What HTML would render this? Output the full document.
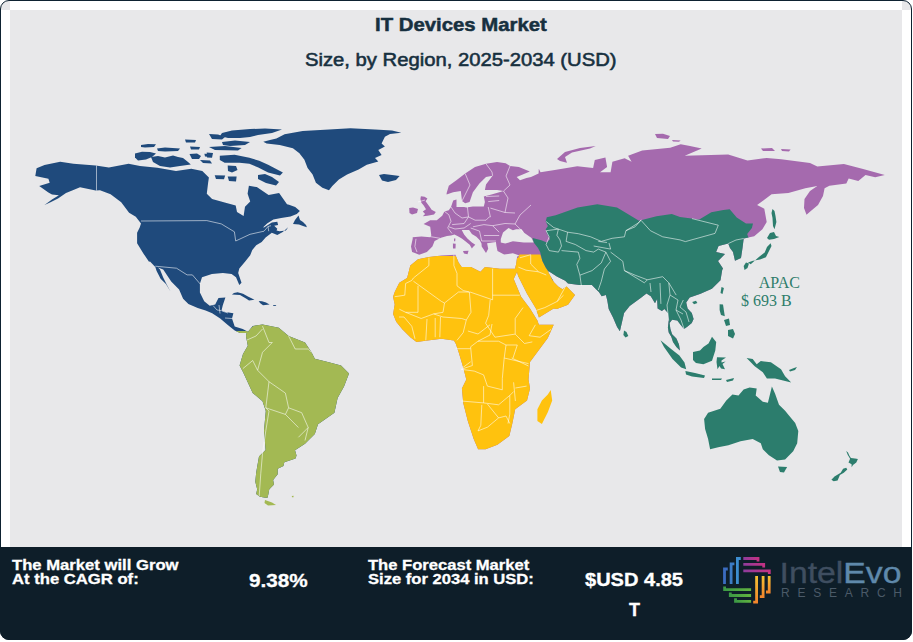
<!DOCTYPE html>
<html><head><meta charset="utf-8">
<style>
html,body{margin:0;padding:0;background:#fff;}
body{width:913px;height:642px;position:relative;overflow:hidden;font-family:"Liberation Sans",sans-serif;}
.frame{position:absolute;left:0;top:0;width:910px;height:638px;border:1px solid #0e2231;border-radius:9px;background:#e8e8ea;overflow:hidden;}
.ws{position:absolute;background:#fff;}
.mapbg{position:absolute;left:10px;top:10px;width:892px;height:537px;background:#e8e8ea;}
.footer{position:absolute;left:0;top:547px;width:912px;height:93px;background:#0e1e29;border-radius:0 0 9px 9px;}
.map{position:absolute;left:0;top:0;}
.title{position:absolute;white-space:nowrap;color:#17303f;font-weight:bold;transform-origin:0 0;line-height:1;-webkit-text-stroke:0.5px #17303f;}
.t1{left:374.5px;top:15px;font-size:19px;transform:scaleX(1.07);}
.t2{left:305px;top:51px;font-size:18px;font-weight:normal;transform:scaleX(1.124);-webkit-text-stroke:0.55px #17303f;}
.lab{font-family:"Liberation Serif",serif;font-size:16px;fill:#2e7d6b;}
.ft{position:absolute;color:#fff;font-weight:bold;white-space:nowrap;transform-origin:0 0;line-height:1;-webkit-text-stroke:0.3px #fff;}
.logo{position:absolute;left:0;top:0;}
</style></head><body>
<div class="frame"></div>
<div class="mapbg"></div>
<div class="ws" style="left:10px;top:1px;width:892px;height:9px;"></div>
<div class="ws" style="left:1px;top:10px;width:9px;height:537px;"></div>
<div class="ws" style="left:902px;top:10px;width:9px;height:537px;"></div>
<svg class="map" width="913" height="642" viewBox="0 0 913 642">
<defs><clipPath id="ca"><path d="M35.3,176.1 L36.6,168.3 L44.5,165.0 L60.2,161.7 L73.4,163.7 L95.7,165.6 L108.9,167.6 L128.6,163.7 L140.0,166.0 L157.4,167.7 L176.0,171.0 L191.3,168.8 L202.3,171.0 L208.9,177.6 L208.1,183.1 L206.8,193.7 L212.1,198.9 L226.5,202.9 L235.7,205.5 L237.0,212.0 L243.6,216.0 L245.0,206.8 L250.2,201.5 L247.6,193.7 L248.9,185.8 L256.8,187.1 L268.6,195.0 L279.1,193.0 L287.0,204.2 L289.0,204.7 L295.2,207.0 L299.9,210.9 L296.8,214.0 L290.5,216.4 L281.2,217.9 L273.4,219.5 L267.1,223.4 L263.2,227.3 L264.0,227.5 L271.8,222.6 L277.3,221.8 L278.1,224.9 L274.2,225.7 L277.3,228.8 L276.5,230.4 L279.6,231.2 L285.9,230.4 L288.2,227.3 L282.7,232.0 L277.3,235.1 L271.8,232.7 L265.6,237.4 L261.7,242.1 L256.2,245.2 L252.3,250.0 L250.2,255.3 L244.8,261.9 L239.3,268.5 L238.2,272.9 L241.5,282.7 L239.3,284.9 L236.0,277.2 L231.6,274.0 L222.9,272.9 L211.9,274.0 L202.0,277.2 L199.9,283.8 L199.9,292.6 L204.2,301.3 L209.7,305.7 L215.2,304.6 L218.5,298.0 L225.4,297.4 L222.8,305.3 L221.5,310.6 L225.4,311.9 L233.4,313.2 L232.0,318.5 L234.7,326.5 L242.7,329.1 L248.0,331.8 L252.7,326.0 L262.5,324.5 L278.8,327.8 L288.6,336.0 L305.0,342.5 L311.5,352.3 L314.8,358.8 L327.8,362.0 L341.0,365.4 L349.0,373.5 L344.0,386.6 L337.6,398.0 L334.4,412.7 L318.0,424.2 L314.8,434.0 L305.0,443.8 L295.0,450.3 L296.5,455.6 L295.5,458.4 L284.3,462.2 L283.4,465.9 L277.7,468.7 L277.7,474.3 L273.1,480.0 L274.0,484.6 L269.3,489.3 L268.4,494.0 L267.5,497.7 L265.6,497.7 L260.0,496.8 L256.2,494.0 L257.2,489.3 L255.3,481.8 L256.2,472.5 L257.2,466.8 L259.0,456.5 L265.6,450.0 L264.0,430.7 L265.8,411.0 L262.5,401.3 L252.7,393.0 L243.0,372.0 L239.6,365.4 L243.0,354.0 L247.8,345.8 L246.0,336.0 L246.6,333.1 L240.0,333.1 L234.7,330.4 L228.1,325.2 L220.2,318.5 L212.2,313.2 L205.6,310.6 L197.7,308.0 L188.4,304.0 L183.1,298.7 L179.1,289.4 L171.2,281.5 L163.2,269.6 L158.0,267.6 L160.0,269.6 L163.2,277.5 L167.2,285.4 L170.5,291.4 L165.9,284.1 L160.6,278.8 L156.6,270.9 L155.3,266.9 L150.0,261.6 L149.0,261.8 L143.7,253.9 L137.1,243.3 L137.1,232.7 L139.7,227.4 L141.0,223.4 L135.8,216.8 L129.1,212.8 L121.2,202.2 L110.6,194.3 L100.0,190.3 L95.7,190.6 L80.0,187.3 L73.4,190.0 L66.0,193.0 L58.0,198.5 L50.0,202.5 L44.5,205.0 L52.0,199.5 L58.9,195.2 L52.0,194.5 L48.4,192.6 L39.2,186.0 L49.7,182.7 L48.4,178.8 Z"/></clipPath><clipPath id="ce"><path d="M412.1,252.0 L411.0,246.5 L412.7,238.8 L412.7,237.2 L421.4,236.6 L430.2,237.2 L431.3,235.5 L430.2,226.8 L423.6,224.0 L430.2,220.2 L436.8,220.2 L442.2,215.8 L444.4,211.4 L448.8,210.3 L451.0,207.0 L453.2,200.5 L456.5,199.4 L456.5,207.0 L464.1,207.0 L466.3,207.6 L472.9,206.5 L483.8,206.5 L484.9,202.1 L483.8,196.6 L491.5,194.4 L503.5,191.1 L497.0,190.0 L484.9,190.0 L486.0,184.6 L492.6,175.8 L486.0,176.9 L479.4,183.5 L472.9,192.2 L469.6,202.1 L465.2,203.2 L462.0,201.0 L460.8,191.1 L453.1,192.2 L446.6,194.4 L446.6,193.3 L448.8,185.7 L456.4,180.2 L465.2,173.6 L475.0,167.0 L486.0,163.8 L497.0,162.1 L505.7,163.2 L510.1,166.0 L518.9,167.0 L529.8,171.4 L522.1,174.7 L516.7,176.9 L520.0,180.2 L526.5,178.0 L531.0,176.9 L538.6,173.6 L538.8,168.8 L540.5,172.3 L556.3,169.7 L577.3,166.2 L593.1,168.0 L594.8,160.0 L605.4,157.4 L607.1,167.0 L600.0,172.3 L610.6,172.3 L612.4,161.8 L624.6,158.3 L631.6,161.8 L628.1,155.7 L642.2,150.4 L670.2,147.8 L680.7,144.3 L690.0,146.0 L701.7,148.4 L684.8,155.7 L728.2,154.5 L747.5,160.5 L766.7,158.0 L781.2,159.3 L810.0,162.9 L817.3,166.5 L843.9,164.1 L863.1,168.9 L884.8,174.9 L875.2,177.3 L865.5,174.9 L858.3,181.0 L848.7,178.6 L846.3,183.4 L829.4,185.8 L824.6,188.2 L823.0,196.0 L818.0,205.0 L812.0,210.0 L806.5,214.7 L804.0,208.0 L804.5,199.0 L810.0,191.0 L817.3,186.0 L805.3,188.2 L788.4,193.0 L771.6,194.2 L757.1,205.1 L764.3,208.7 L766.7,221.9 L762.4,229.2 L754.2,236.2 L748.4,237.4 L743.7,238.5 L742.5,248.0 L741.0,258.0 L735.0,260.7 L733.0,252.0 L730.0,248.0 L728.2,243.6 L718.6,246.0 L716.1,252.0 L725.0,254.0 L718.0,261.0 L723.0,268.6 L722.2,270.0 L720.5,280.3 L711.9,288.8 L699.9,294.0 L689.7,297.4 L686.2,302.5 L687.6,308.6 L691.8,312.9 L693.6,318.9 L691.8,323.1 L687.6,326.6 L684.1,329.1 L680.7,324.9 L677.3,320.6 L672.1,319.7 L669.6,323.1 L670.4,329.1 L672.1,334.3 L676.4,338.6 L679.0,344.6 L679.9,350.6 L676.4,347.1 L673.0,342.0 L671.3,336.8 L668.7,332.6 L667.9,327.4 L668.7,320.6 L667.9,312.9 L664.4,309.0 L661.9,311.1 L657.6,308.6 L657.1,299.1 L655.0,303.3 L650.8,296.3 L646.5,293.5 L641.0,297.7 L629.7,306.1 L624.1,313.1 L619.9,331.3 L617.1,327.1 L612.9,317.3 L608.7,308.9 L607.3,300.5 L605.9,294.9 L601.7,296.3 L598.9,292.0 L596.0,289.3 L591.9,285.0 L579.3,285.0 L568.0,283.6 L565.2,280.8 L556.8,276.6 L548.4,271.0 L548.4,272.4 L554.0,282.2 L558.2,286.5 L562.4,289.3 L566.6,286.5 L575.0,294.9 L568.0,304.7 L556.8,308.9 L553.7,308.5 L538.9,317.4 L535.9,308.5 L527.0,293.7 L518.1,275.9 L517.0,272.0 L513.7,278.9 L521.1,296.7 L530.0,308.5 L537.4,320.4 L538.9,324.8 L553.7,324.8 L547.8,338.1 L538.9,350.0 L530.0,361.9 L528.5,379.6 L530.0,388.5 L527.0,400.4 L515.2,409.3 L512.2,424.1 L509.3,435.9 L497.4,444.8 L485.6,449.3 L478.1,449.3 L473.7,438.9 L467.8,421.1 L463.3,403.3 L461.9,388.5 L466.3,379.6 L463.3,367.8 L458.9,353.0 L455.9,344.0 L453.9,340.4 L441.4,338.8 L427.4,340.4 L416.5,341.9 L410.3,337.3 L402.5,329.5 L396.2,321.7 L393.1,313.9 L394.7,304.5 L393.1,296.7 L394.7,292.0 L399.3,282.7 L407.1,278.0 L410.3,265.6 L418.0,259.3 L429.0,257.0 L441.4,255.5 L455.4,254.7 L458.6,262.5 L461.7,267.1 L471.0,267.1 L480.4,271.8 L485.0,267.1 L500.0,268.7 L515.0,268.7 L516.1,264.3 L517.2,256.6 L519.4,255.5 L512.9,253.3 L504.1,254.4 L497.5,251.1 L496.4,245.7 L495.9,242.1 L487.1,243.2 L488.2,248.7 L486.0,253.0 L481.7,246.5 L481.5,243.6 L479.8,240.2 L476.4,236.8 L471.9,234.0 L469.1,230.1 L461.8,230.1 L462.4,231.2 L464.1,234.6 L467.4,238.5 L471.9,242.4 L475.3,244.7 L473.0,246.9 L471.9,248.6 L469.7,244.7 L466.3,241.9 L461.8,238.5 L457.9,236.3 L454.5,234.6 L451.0,235.5 L447.0,236.0 L441.0,237.7 L434.6,241.0 L432.4,246.5 L426.9,252.0 L419.2,254.7 L414.9,253.0 Z"/></clipPath></defs>
<g fill="#1f4a7c">
<path d="M35.3,176.1 L36.6,168.3 L44.5,165.0 L60.2,161.7 L73.4,163.7 L95.7,165.6 L108.9,167.6 L128.6,163.7 L140.0,166.0 L157.4,167.7 L176.0,171.0 L191.3,168.8 L202.3,171.0 L208.9,177.6 L208.1,183.1 L206.8,193.7 L212.1,198.9 L226.5,202.9 L235.7,205.5 L237.0,212.0 L243.6,216.0 L245.0,206.8 L250.2,201.5 L247.6,193.7 L248.9,185.8 L256.8,187.1 L268.6,195.0 L279.1,193.0 L287.0,204.2 L289.0,204.7 L295.2,207.0 L299.9,210.9 L296.8,214.0 L290.5,216.4 L281.2,217.9 L273.4,219.5 L267.1,223.4 L263.2,227.3 L264.0,227.5 L271.8,222.6 L277.3,221.8 L278.1,224.9 L274.2,225.7 L277.3,228.8 L276.5,230.4 L279.6,231.2 L285.9,230.4 L288.2,227.3 L282.7,232.0 L277.3,235.1 L271.8,232.7 L265.6,237.4 L261.7,242.1 L256.2,245.2 L252.3,250.0 L250.2,255.3 L244.8,261.9 L239.3,268.5 L238.2,272.9 L241.5,282.7 L239.3,284.9 L236.0,277.2 L231.6,274.0 L222.9,272.9 L211.9,274.0 L202.0,277.2 L199.9,283.8 L199.9,292.6 L204.2,301.3 L209.7,305.7 L215.2,304.6 L218.5,298.0 L225.4,297.4 L222.8,305.3 L221.5,310.6 L225.4,311.9 L233.4,313.2 L232.0,318.5 L234.7,326.5 L242.7,329.1 L248.0,331.8 L252.7,326.0 L262.5,324.5 L278.8,327.8 L288.6,336.0 L305.0,342.5 L311.5,352.3 L314.8,358.8 L327.8,362.0 L341.0,365.4 L349.0,373.5 L344.0,386.6 L337.6,398.0 L334.4,412.7 L318.0,424.2 L314.8,434.0 L305.0,443.8 L295.0,450.3 L296.5,455.6 L295.5,458.4 L284.3,462.2 L283.4,465.9 L277.7,468.7 L277.7,474.3 L273.1,480.0 L274.0,484.6 L269.3,489.3 L268.4,494.0 L267.5,497.7 L265.6,497.7 L260.0,496.8 L256.2,494.0 L257.2,489.3 L255.3,481.8 L256.2,472.5 L257.2,466.8 L259.0,456.5 L265.6,450.0 L264.0,430.7 L265.8,411.0 L262.5,401.3 L252.7,393.0 L243.0,372.0 L239.6,365.4 L243.0,354.0 L247.8,345.8 L246.0,336.0 L246.6,333.1 L240.0,333.1 L234.7,330.4 L228.1,325.2 L220.2,318.5 L212.2,313.2 L205.6,310.6 L197.7,308.0 L188.4,304.0 L183.1,298.7 L179.1,289.4 L171.2,281.5 L163.2,269.6 L158.0,267.6 L160.0,269.6 L163.2,277.5 L167.2,285.4 L170.5,291.4 L165.9,284.1 L160.6,278.8 L156.6,270.9 L155.3,266.9 L150.0,261.6 L149.0,261.8 L143.7,253.9 L137.1,243.3 L137.1,232.7 L139.7,227.4 L141.0,223.4 L135.8,216.8 L129.1,212.8 L121.2,202.2 L110.6,194.3 L100.0,190.3 L95.7,190.6 L80.0,187.3 L73.4,190.0 L66.0,193.0 L58.0,198.5 L50.0,202.5 L44.5,205.0 L52.0,199.5 L58.9,195.2 L52.0,194.5 L48.4,192.6 L39.2,186.0 L49.7,182.7 L48.4,178.8 Z"/>
<path d="M263.3,141.7 L270.0,140.0 L276.4,138.4 L284.6,134.3 L302.7,131.0 L329.0,129.4 L350.4,128.2 L375.0,129.4 L392.0,130.5 L401.3,132.7 L390.0,134.0 L384.9,136.8 L381.6,143.4 L384.9,146.6 L378.3,149.9 L381.6,154.9 L375.0,158.1 L378.3,161.4 L366.8,164.7 L358.6,169.6 L347.1,174.6 L338.9,179.5 L332.3,186.1 L329.0,190.2 L322.4,187.7 L315.9,182.8 L312.6,174.6 L307.6,168.0 L304.4,159.8 L299.4,153.2 L292.9,148.3 L279.7,145.0 L266.6,143.4 Z"/>
<path d="M379.0,175.0 L384.0,174.0 L392.0,175.0 L399.6,176.0 L396.0,180.0 L388.0,182.0 L382.0,180.5 Z"/>
<path d="M231.9,294.6 L234.0,293.0 L237.6,292.2 L243.0,293.8 L247.9,296.5 L251.0,298.0 L254.5,299.8 L249.0,300.4 L246.0,298.5 L240.0,295.0 Z"/>
<path d="M258.7,301.0 L262.0,301.2 L266.0,302.5 L269.6,304.5 L263.0,305.2 L260.0,303.0 Z"/>
<path d="M273.2,305.1 L276.2,305.2 L276.0,305.9 L273.3,305.9 Z"/>
<path d="M135.0,153.5 L142.0,151.8 L150.0,152.0 L156.0,153.5 L152.0,157.0 L146.0,159.5 L138.0,160.5 L135.0,157.5 Z"/>
<path d="M151.0,157.0 L158.0,156.0 L165.0,157.5 L173.0,155.5 L178.0,157.0 L183.0,158.0 L188.0,162.0 L190.8,164.5 L180.0,166.0 L170.0,167.5 L160.0,166.0 L153.0,162.0 Z"/>
<path d="M141.0,145.0 L148.0,144.0 L156.0,144.3 L154.0,147.0 L145.0,147.5 L141.0,147.0 Z"/>
<path d="M157.0,148.5 L165.0,147.5 L180.0,148.5 L178.0,151.0 L165.0,151.5 L158.0,151.0 Z"/>
<path d="M185.0,139.5 L196.0,140.0 L195.0,142.5 L186.0,142.5 Z"/>
<path d="M190.0,146.5 L200.0,147.0 L199.0,149.5 L191.0,149.5 Z"/>
<path d="M189.5,154.0 L197.0,153.5 L201.0,156.0 L199.0,159.0 L192.0,159.0 Z"/>
<path d="M206.7,152.4 L213.0,153.0 L212.0,157.8 L207.0,157.5 Z"/>
<path d="M204.4,153.8 L210.0,154.0 L212.0,157.0 L205.0,156.5 Z"/>
<path d="M200.0,160.0 L210.0,160.5 L212.0,163.6 L203.0,163.0 Z"/>
<path d="M222.0,133.0 L232.0,130.5 L250.0,129.0 L265.0,128.6 L282.0,129.5 L272.0,133.0 L258.0,135.0 L250.0,137.0 L240.0,138.0 L228.0,138.0 L220.0,136.0 Z"/>
<path d="M209.0,134.0 L218.0,134.5 L225.0,137.0 L222.0,139.5 L212.0,139.0 Z"/>
<path d="M222.0,142.0 L235.0,140.6 L250.0,142.0 L245.0,145.0 L230.0,146.0 L223.0,145.0 Z"/>
<path d="M209.0,147.0 L225.0,146.0 L241.6,148.0 L238.0,150.5 L215.0,150.0 Z"/>
<path d="M219.8,155.8 L234.6,154.8 L249.4,157.8 L259.2,160.7 L268.1,164.7 L282.9,172.5 L280.0,175.5 L268.1,172.5 L258.3,167.6 L249.4,163.7 L239.5,162.7 L224.7,162.7 L219.8,160.0 Z"/>
<path d="M258.0,175.0 L265.0,174.0 L272.0,177.0 L279.0,182.0 L276.0,185.4 L266.0,183.0 L258.0,179.0 Z"/>
<path d="M227.7,165.6 L236.0,166.0 L237.5,170.0 L232.0,172.5 L228.0,171.0 Z"/>
<path d="M227.7,176.5 L236.6,176.5 L236.0,181.4 L229.0,181.0 Z"/>
<path d="M214.7,175.3 L225.2,175.5 L224.0,179.2 L216.0,179.0 Z"/>
<path d="M298.5,215.6 L300.0,220.0 L303.0,222.0 L306.0,225.0 L306.9,227.3 L303.0,226.0 L299.0,224.5 L293.0,224.0 L295.0,220.0 Z"/>
</g><g fill="#a3b953">
<path d="M265.0,500.0 L272.0,502.5 L276.0,505.0 L268.0,505.5 L264.5,503.0 Z"/>
<path d="M291.8,496.0 L293.6,495.8 L293.5,497.2 L292.0,497.2 Z"/>
</g>
<path clip-path="url(#ca)" fill="#a3b953" d="M200.0,331.0 L247.8,331.0 L252.0,327.0 L262.0,320.0 L300.0,300.0 L400.0,300.0 L400.0,520.0 L200.0,520.0 Z"/>
<g fill="#a56aae"><path d="M412.1,252.0 L411.0,246.5 L412.7,238.8 L412.7,237.2 L421.4,236.6 L430.2,237.2 L431.3,235.5 L430.2,226.8 L423.6,224.0 L430.2,220.2 L436.8,220.2 L442.2,215.8 L444.4,211.4 L448.8,210.3 L451.0,207.0 L453.2,200.5 L456.5,199.4 L456.5,207.0 L464.1,207.0 L466.3,207.6 L472.9,206.5 L483.8,206.5 L484.9,202.1 L483.8,196.6 L491.5,194.4 L503.5,191.1 L497.0,190.0 L484.9,190.0 L486.0,184.6 L492.6,175.8 L486.0,176.9 L479.4,183.5 L472.9,192.2 L469.6,202.1 L465.2,203.2 L462.0,201.0 L460.8,191.1 L453.1,192.2 L446.6,194.4 L446.6,193.3 L448.8,185.7 L456.4,180.2 L465.2,173.6 L475.0,167.0 L486.0,163.8 L497.0,162.1 L505.7,163.2 L510.1,166.0 L518.9,167.0 L529.8,171.4 L522.1,174.7 L516.7,176.9 L520.0,180.2 L526.5,178.0 L531.0,176.9 L538.6,173.6 L538.8,168.8 L540.5,172.3 L556.3,169.7 L577.3,166.2 L593.1,168.0 L594.8,160.0 L605.4,157.4 L607.1,167.0 L600.0,172.3 L610.6,172.3 L612.4,161.8 L624.6,158.3 L631.6,161.8 L628.1,155.7 L642.2,150.4 L670.2,147.8 L680.7,144.3 L690.0,146.0 L701.7,148.4 L684.8,155.7 L728.2,154.5 L747.5,160.5 L766.7,158.0 L781.2,159.3 L810.0,162.9 L817.3,166.5 L843.9,164.1 L863.1,168.9 L884.8,174.9 L875.2,177.3 L865.5,174.9 L858.3,181.0 L848.7,178.6 L846.3,183.4 L829.4,185.8 L824.6,188.2 L823.0,196.0 L818.0,205.0 L812.0,210.0 L806.5,214.7 L804.0,208.0 L804.5,199.0 L810.0,191.0 L817.3,186.0 L805.3,188.2 L788.4,193.0 L771.6,194.2 L757.1,205.1 L764.3,208.7 L766.7,221.9 L762.4,229.2 L754.2,236.2 L748.4,237.4 L743.7,238.5 L742.5,248.0 L741.0,258.0 L735.0,260.7 L733.0,252.0 L730.0,248.0 L728.2,243.6 L718.6,246.0 L716.1,252.0 L725.0,254.0 L718.0,261.0 L723.0,268.6 L722.2,270.0 L720.5,280.3 L711.9,288.8 L699.9,294.0 L689.7,297.4 L686.2,302.5 L687.6,308.6 L691.8,312.9 L693.6,318.9 L691.8,323.1 L687.6,326.6 L684.1,329.1 L680.7,324.9 L677.3,320.6 L672.1,319.7 L669.6,323.1 L670.4,329.1 L672.1,334.3 L676.4,338.6 L679.0,344.6 L679.9,350.6 L676.4,347.1 L673.0,342.0 L671.3,336.8 L668.7,332.6 L667.9,327.4 L668.7,320.6 L667.9,312.9 L664.4,309.0 L661.9,311.1 L657.6,308.6 L657.1,299.1 L655.0,303.3 L650.8,296.3 L646.5,293.5 L641.0,297.7 L629.7,306.1 L624.1,313.1 L619.9,331.3 L617.1,327.1 L612.9,317.3 L608.7,308.9 L607.3,300.5 L605.9,294.9 L601.7,296.3 L598.9,292.0 L596.0,289.3 L591.9,285.0 L579.3,285.0 L568.0,283.6 L565.2,280.8 L556.8,276.6 L548.4,271.0 L548.4,272.4 L554.0,282.2 L558.2,286.5 L562.4,289.3 L566.6,286.5 L575.0,294.9 L568.0,304.7 L556.8,308.9 L553.7,308.5 L538.9,317.4 L535.9,308.5 L527.0,293.7 L518.1,275.9 L517.0,272.0 L513.7,278.9 L521.1,296.7 L530.0,308.5 L537.4,320.4 L538.9,324.8 L553.7,324.8 L547.8,338.1 L538.9,350.0 L530.0,361.9 L528.5,379.6 L530.0,388.5 L527.0,400.4 L515.2,409.3 L512.2,424.1 L509.3,435.9 L497.4,444.8 L485.6,449.3 L478.1,449.3 L473.7,438.9 L467.8,421.1 L463.3,403.3 L461.9,388.5 L466.3,379.6 L463.3,367.8 L458.9,353.0 L455.9,344.0 L453.9,340.4 L441.4,338.8 L427.4,340.4 L416.5,341.9 L410.3,337.3 L402.5,329.5 L396.2,321.7 L393.1,313.9 L394.7,304.5 L393.1,296.7 L394.7,292.0 L399.3,282.7 L407.1,278.0 L410.3,265.6 L418.0,259.3 L429.0,257.0 L441.4,255.5 L455.4,254.7 L458.6,262.5 L461.7,267.1 L471.0,267.1 L480.4,271.8 L485.0,267.1 L500.0,268.7 L515.0,268.7 L516.1,264.3 L517.2,256.6 L519.4,255.5 L512.9,253.3 L504.1,254.4 L497.5,251.1 L496.4,245.7 L495.9,242.1 L487.1,243.2 L488.2,248.7 L486.0,253.0 L481.7,246.5 L481.5,243.6 L479.8,240.2 L476.4,236.8 L471.9,234.0 L469.1,230.1 L461.8,230.1 L462.4,231.2 L464.1,234.6 L467.4,238.5 L471.9,242.4 L475.3,244.7 L473.0,246.9 L471.9,248.6 L469.7,244.7 L466.3,241.9 L461.8,238.5 L457.9,236.3 L454.5,234.6 L451.0,235.5 L447.0,236.0 L441.0,237.7 L434.6,241.0 L432.4,246.5 L426.9,252.0 L419.2,254.7 L414.9,253.0 Z"/><path d="M420.9,196.2 L424.6,196.7 L427.4,198.5 L425.6,201.3 L427.4,203.7 L429.8,207.0 L431.6,209.8 L435.8,212.1 L434.0,214.4 L427.4,215.8 L422.8,216.3 L425.1,214.0 L422.8,211.6 L426.0,209.3 L423.7,205.6 L421.4,202.7 L420.4,199.0 Z"/><path d="M409.2,208.0 L413.0,207.4 L418.0,209.0 L417.0,213.0 L412.0,214.4 L409.5,213.0 Z"/><path d="M463.0,251.0 L468.6,250.8 L467.5,254.2 L464.0,253.5 Z"/><path d="M452.9,243.6 L455.7,243.8 L455.5,248.6 L453.0,248.4 Z"/><path d="M454.0,238.5 L455.4,238.6 L455.2,241.3 L454.1,241.2 Z"/><path d="M557.0,159.0 L565.0,152.0 L580.0,148.0 L595.7,146.0 L590.0,148.5 L572.0,152.5 L565.0,157.0 L567.0,162.7 L560.0,161.0 Z"/><path d="M655.0,134.0 L663.0,133.8 L670.0,136.0 L668.0,139.0 L657.0,138.0 Z"/><path d="M672.0,140.0 L680.7,140.5 L679.0,141.8 L673.0,141.6 Z"/><path d="M761.0,148.5 L772.0,148.0 L775.0,151.0 L763.0,151.0 Z"/><path d="M781.0,149.0 L790.6,149.5 L789.0,151.5 L782.0,151.0 Z"/></g>
<path clip-path="url(#ce)" fill="#ffc20e" d="M380.0,256.0 L429.0,256.0 L452.0,256.0 L518.0,258.0 L519.4,254.4 L540.2,254.4 L542.4,261.0 L545.7,267.6 L550.1,274.1 L552.3,280.0 L600.0,300.0 L600.0,480.0 L380.0,480.0 Z"/>
<path fill="#ffc20e" d="M550.7,390.0 L552.2,400.4 L547.8,412.2 L541.9,424.1 L537.4,421.1 L537.4,409.3 L541.9,400.4 L547.8,394.4 Z"/>
<path clip-path="url(#ce)" fill="#2c7d6d" d="M532.6,238.0 L541.3,240.2 L546.8,242.4 L550.1,239.1 L546.8,233.6 L545.7,229.2 L547.9,226.0 L545.7,221.6 L546.8,217.2 L555.7,215.2 L577.6,207.5 L597.3,204.2 L617.0,207.5 L639.0,220.7 L656.5,216.3 L671.8,214.0 L680.0,217.1 L699.3,219.5 L711.3,212.3 L723.4,209.9 L729.7,209.3 L736.7,217.5 L746.0,223.4 L753.0,223.4 L751.9,228.0 L747.2,233.9 L748.4,237.4 L760.0,245.0 L800.0,245.0 L800.0,520.0 L600.0,520.0 L600.0,300.0 L552.3,280.0 L550.1,274.1 L545.7,267.6 L542.4,261.0 L540.2,252.2 L538.0,247.9 L533.7,242.4 Z"/>
<path fill="#e8e8ea" d="M500.8,239.1 L503.0,232.5 L508.5,228.1 L512.9,230.3 L516.1,229.2 L521.6,229.2 L523.8,232.5 L531.5,238.0 L533.7,242.4 L523.8,242.4 L512.9,241.3 L505.2,243.5 L500.8,242.4 Z"/>
<g fill="#2c7d6d">
<path d="M726.0,380.0 L734.0,378.0 L733.0,380.5 L727.0,382.0 Z"/>
<path d="M712.0,378.5 L722.0,378.5 L721.0,380.0 L712.0,380.0 Z"/>
<path d="M789.0,370.0 L794.0,368.0 L797.0,367.0 L795.0,370.0 L790.0,371.5 Z"/>
<path d="M728.0,330.0 L733.0,329.0 L735.0,334.0 L733.0,338.5 L728.0,336.0 Z"/>
<path d="M724.0,320.0 L729.0,318.5 L730.0,325.0 L726.0,326.0 Z"/>
<path d="M692.2,302.0 L696.0,300.8 L697.4,303.0 L694.0,304.2 Z"/>
<path d="M624.0,330.6 L626.5,332.0 L628.3,336.0 L625.5,337.6 L623.4,335.0 Z"/>
<path d="M772.5,209.0 L774.5,211.0 L775.5,216.0 L776.4,222.0 L774.5,229.2 L773.0,226.0 L772.5,218.0 L771.5,213.0 Z"/>
<path d="M660.5,340.2 L670.8,348.8 L679.4,355.6 L684.5,362.5 L686.2,369.3 L681.1,367.6 L672.5,359.0 L664.0,347.0 Z"/>
<path d="M685.4,371.0 L695.0,373.0 L705.0,375.5 L704.0,377.9 L692.0,376.5 L686.0,374.5 Z"/>
<path d="M712.0,336.8 L716.2,342.0 L715.3,350.5 L712.0,360.8 L703.4,364.2 L696.0,363.0 L693.0,360.0 L693.0,352.0 L700.0,350.5 L703.4,347.0 L708.5,343.6 Z"/>
<path d="M717.0,357.3 L726.0,357.5 L721.5,360.5 L721.5,362.5 L725.6,361.5 L722.5,364.0 L725.0,369.3 L721.0,368.5 L719.5,366.0 L717.5,369.3 L716.5,362.0 Z"/>
<path d="M719.6,304.2 L723.0,304.5 L724.8,316.2 L721.0,315.0 L719.6,310.0 Z"/>
<path d="M721.5,287.0 L723.9,288.0 L722.5,294.0 L720.5,293.0 Z"/>
<path d="M746.6,358.1 L752.7,359.1 L756.7,364.2 L760.8,361.1 L770.9,362.2 L781.0,369.2 L785.1,376.3 L791.2,382.4 L783.1,380.4 L775.0,378.4 L766.9,378.4 L762.8,372.3 L754.7,366.2 Z"/>
<path d="M704.1,418.9 L708.1,412.8 L720.3,408.8 L726.3,400.6 L732.4,394.6 L738.5,395.6 L743.6,389.5 L749.6,387.5 L756.7,388.5 L755.7,395.6 L762.8,401.7 L767.9,402.7 L771.9,386.5 L775.0,393.6 L779.0,404.7 L785.1,410.8 L790.2,416.9 L795.2,422.9 L798.3,431.0 L797.2,443.2 L793.2,451.3 L785.1,459.4 L777.0,460.4 L768.9,455.3 L762.8,449.3 L760.8,443.2 L752.7,439.1 L740.5,441.2 L728.4,445.2 L718.2,447.2 L710.1,449.3 L708.1,439.1 L705.1,429.0 Z"/>
<path d="M778.0,466.5 L787.1,467.0 L784.0,472.6 L780.0,472.0 Z"/>
<path d="M846.2,450.9 L848.0,452.5 L849.3,455.6 L850.9,457.9 L855.0,458.5 L857.9,459.1 L856.3,462.6 L853.0,465.0 L851.6,467.3 L851.6,464.2 L848.5,462.6 L850.1,458.7 L847.8,455.0 Z"/>
<path d="M846.2,467.7 L847.3,469.6 L843.8,472.7 L839.9,475.1 L837.6,480.5 L833.7,481.3 L831.4,479.8 L834.5,476.6 L840.7,472.7 L843.1,468.8 Z"/>
<path d="M770.0,233.0 L774.0,232.0 L776.0,236.0 L779.3,237.0 L774.0,239.0 L769.0,239.7 L767.0,238.0 Z"/>
<path d="M770.6,243.2 L771.5,246.0 L769.4,250.2 L765.9,257.2 L760.0,259.6 L753.0,260.7 L748.0,262.5 L750.7,264.3 L758.9,257.0 L764.7,252.4 L767.0,247.0 Z"/>
<path d="M746.0,262.5 L749.0,263.5 L747.5,268.0 L744.5,270.0 L743.7,266.0 Z"/>
</g>
<g fill="none" stroke="#ffffff" stroke-opacity="0.8" stroke-width="0.7" stroke-linejoin="round"><path d="M96.5,165.6 L96.5,190.5"/><path d="M141.0,221.0 L206.8,220.6 L221.3,223.9 L234.4,231.8 L235.7,241.0 L250.0,234.3 L264.0,231.2 L268.0,226.5 L271.0,225.7"/><path d="M268.0,226.5 L268.7,231.2"/><path d="M155.3,266.2 L176.5,268.2 L187.1,274.9 L192.4,274.9 L200.3,284.1"/><path d="M213.0,305.5 L217.0,310.0 L221.5,310.6"/><path d="M219.0,305.0 L220.0,313.5"/><path d="M222.0,311.0 L228.0,313.0"/><path d="M225.0,318.0 L232.0,318.5"/><path d="M262.5,326.1 L269.0,342.5 L272.3,342.5"/><path d="M288.6,336.0 L295.2,349.0 L308.2,349.0 L311.5,352.3"/><path d="M272.3,342.5 L262.5,352.3 L257.6,370.3 L269.0,381.7 L285.4,393.1 L288.6,407.8 L301.7,412.7 L308.2,427.5 L305.0,440.5"/><path d="M242.9,368.6 L252.7,360.5 L257.6,370.3"/><path d="M269.0,381.7 L265.8,407.8 L269.0,411.1 L265.8,430.7 L262.5,453.6 L260.8,473.2 L259.2,496.1"/><path d="M265.8,407.8 L285.4,414.4 L288.6,407.8"/><path d="M285.4,414.4 L298.4,427.5"/><path d="M298.4,437.3 L308.2,427.5"/><path d="M247.0,340.0 L256.0,336.0 L262.5,329.0"/><path d="M416.0,238.8 L414.9,246.5 L417.0,252.0"/><path d="M430.2,236.6 L440.0,238.3"/><path d="M444.4,211.4 L448.8,214.7 L451.0,221.3 L447.7,227.9 L452.0,233.5"/><path d="M451.0,207.0 L455.0,213.0 L462.0,218.0 L468.5,216.9 L467.4,207.0"/><path d="M452.1,224.6 L464.1,223.5 L468.5,216.9"/><path d="M448.8,226.8 L455.0,229.0 L464.1,228.0 L470.7,223.5"/><path d="M468.5,216.9 L475.1,220.2 L486.0,220.2 L489.3,216.9"/><path d="M488.2,207.0 L490.4,216.9 L489.3,216.9"/><path d="M472.9,226.8 L483.9,224.6 L492.6,225.7 L499.2,232.2"/><path d="M483.9,235.5 L499.2,235.5"/><path d="M470.7,228.0 L479.5,231.1 L481.7,241.0"/><path d="M481.7,241.0 L495.9,241.0"/><path d="M490.4,208.1 L505.0,212.5 L515.0,213.0"/><path d="M492.6,225.7 L505.0,223.5 L515.0,224.0"/><path d="M488.2,201.6 L499.2,200.5"/><path d="M486.0,196.5 L499.2,196.0"/><path d="M503.5,191.1 L508.0,198.0 L505.0,212.5"/><path d="M510.0,166.0 L506.0,176.0 L510.0,185.0 L503.5,191.1"/><path d="M486.0,163.8 L492.0,172.0 L492.6,175.8"/><path d="M465.2,173.6 L470.0,185.0 L462.0,201.0"/><path d="M418.0,202.0 L425.0,200.0"/><path d="M531.0,205.0 L520.0,215.0 L515.0,224.0 L523.8,232.5"/><path d="M428.9,257.8 L428.9,265.6 L413.4,278.0 L411.8,280.4 L405.6,283.5 L404.8,295.2 L394.7,296.7"/><path d="M413.4,281.2 L441.4,301.4 L444.5,303.0"/><path d="M418.0,285.8 L418.0,312.3 L405.6,312.3 L399.3,309.2"/><path d="M444.5,303.0 L458.5,292.0 L469.4,292.0"/><path d="M453.9,254.7 L453.9,265.6 L457.0,273.4 L457.0,285.8 L463.2,290.5 L469.4,292.0"/><path d="M469.4,292.0 L471.0,312.3 L466.3,320.0"/><path d="M444.5,303.0 L443.0,312.3 L433.6,313.9"/><path d="M443.0,317.0 L461.7,318.5 L466.3,320.0"/><path d="M405.6,312.3 L421.2,318.5 L433.6,313.9 L443.0,317.0"/><path d="M440.5,317.0 L439.8,337.2"/><path d="M466.3,320.0 L463.2,332.6 L457.0,340.3"/><path d="M427.0,319.0 L425.8,340.3"/><path d="M435.2,318.0 L435.2,337.2"/><path d="M399.0,317.0 L404.0,317.0 L411.8,326.3 L415.0,338.8"/><path d="M470.0,292.0 L492.6,299.8 L492.6,268.7"/><path d="M492.6,295.2 L519.8,295.2"/><path d="M490.2,299.8 L488.7,315.4 L485.6,323.2 L494.9,337.2 L515.2,334.1"/><path d="M523.0,307.6 L515.2,318.5 L515.2,334.1"/><path d="M535.4,324.8 L529.2,335.7 L540.1,337.2 L551.0,329.4"/><path d="M515.2,334.1 L524.5,343.5 L532.3,341.9"/><path d="M467.9,331.0 L478.0,334.0 L490.0,324.8"/><path d="M478.0,341.2 L498.6,341.2 L506.0,345.0 L504.2,358.0 L502.3,378.6 L502.3,389.8 L487.4,386.1 L483.6,374.9 L474.3,371.1 L461.2,369.3"/><path d="M478.0,341.2 L470.6,346.8 L472.4,365.5 L461.2,369.3"/><path d="M461.2,401.0 L483.6,402.9 L498.6,404.8"/><path d="M483.6,386.1 L483.6,402.9"/><path d="M498.6,404.8 L509.8,395.4 L513.6,391.7"/><path d="M481.8,404.8 L480.8,425.3 L478.0,430.9 L487.4,427.2 L498.6,417.9 L506.0,416.0 L509.8,423.5"/><path d="M487.4,404.0 L498.6,417.9"/><path d="M504.2,358.0 L528.5,363.6"/><path d="M526.6,386.1 L515.4,388.0"/><path d="M511.7,358.0 L528.5,366.0"/><path d="M506.0,345.0 L517.3,345.0 L513.0,358.0"/><path d="M509.8,395.4 L509.8,414.1 L508.0,423.5"/><path d="M513.6,382.3 L515.4,401.0"/><path d="M455.6,348.7 L470.6,348.7"/><path d="M463.1,367.4 L470.6,361.8"/><path d="M492.0,324.0 L490.0,335.0 L478.0,341.2"/><path d="M519.8,257.8 L530.7,254.7 L530.7,264.0 L538.5,271.8"/><path d="M518.3,267.1 L526.0,270.2 L538.5,271.8 L546.3,275.0"/><path d="M535.4,310.7 L544.8,307.6 L557.2,301.4 L563.5,295.2"/><path d="M557.2,301.4 L565.0,287.4"/><path d="M546.1,230.7 L558.4,229.1 L567.6,232.2 L578.3,233.7 L590.6,236.8 L601.3,241.4 L612.1,238.3 L624.4,236.8 L625.9,230.7 L638.2,223.0 L641.2,219.9"/><path d="M641.2,219.9 L635.1,226.8 L625.9,230.7"/><path d="M641.2,220.5 L650.4,230.7 L662.7,236.8 L680.0,239.9 L685.4,241.6 L715.0,233.4 L718.3,225.2 L692.0,218.6"/><path d="M546.1,221.5 L553.8,227.6 L558.4,229.1 L556.9,235.3 L560.0,239.9 L561.5,246.0 L558.4,252.1 L549.2,250.6 L546.1,244.5 L549.2,236.8 L546.1,230.7"/><path d="M567.6,232.2 L566.1,241.4 L575.3,244.5 L586.0,250.6 L593.7,252.1"/><path d="M561.5,250.6 L578.3,252.1 L579.9,258.3 L576.8,264.4 L579.9,275.2 L592.1,270.6 L601.3,262.9 L605.9,252.1 L598.3,249.1 L593.7,252.1"/><path d="M593.7,246.0 L610.6,249.1 L609.0,243.0"/><path d="M598.3,241.4 L607.0,242.5"/><path d="M605.9,252.1 L610.6,261.3 L604.4,269.0 L601.3,281.3 L598.3,290.0"/><path d="M579.9,275.2 L581.4,285.9"/><path d="M610.6,252.1 L622.8,261.3 L624.4,270.6 L635.1,275.2 L647.4,279.8 L662.7,276.7 L668.8,282.8 L676.2,295.1"/><path d="M624.4,270.6 L644.3,282.8 L647.4,279.8"/><path d="M650.0,283.0 L651.0,292.0"/><path d="M660.0,283.0 L660.9,303.9"/><path d="M668.8,282.8 L670.0,295.0 L667.0,305.0 L668.7,320.6"/><path d="M670.0,295.0 L678.0,300.0 L676.0,310.0 L681.0,320.0 L684.1,329.1"/><path d="M683.3,300.0 L680.0,307.0 L686.0,312.0 L689.0,322.0"/><path d="M676.0,310.0 L683.0,314.0"/><path d="M728.2,243.6 L736.0,240.0 L743.7,238.5"/></g>
<text x="758.8" y="288" class="lab">APAC</text><text x="741" y="306" class="lab">$ 693 B</text>
</svg>
<div class="title t1">IT Devices Market</div>
<div class="title t2">Size, by Region, 2025-2034 (USD)</div>
<div class="footer"></div>
<div class="ft" style="left:12px;top:558px;font-size:15px;line-height:14px;transform:scaleX(1.11);">The Market will Grow<br>At the CAGR of:</div>
<div class="ft" style="left:249px;top:570.5px;font-size:19px;transform:scaleX(1.09);">9.38%</div>
<div class="ft" style="left:368px;top:558px;font-size:15px;line-height:14px;transform:scaleX(1.105);">The Forecast Market<br>Size for 2034 in USD:</div>
<div class="ft" style="left:584.5px;top:570.5px;font-size:18px;transform:scaleX(1.113);">$USD 4.85</div>
<div class="ft" style="left:629px;top:600.5px;font-size:18px;">T</div>
<svg class="logo" width="913" height="642" viewBox="0 0 913 642">
<defs>
<linearGradient id="gm" x1="0" x2="1" y1="0" y2="0"><stop offset="0" stop-color="#8e3c9c"/><stop offset="1" stop-color="#c23284"/></linearGradient>
<linearGradient id="go" x1="0" x2="0" y1="0" y2="1"><stop offset="0" stop-color="#f4c233"/><stop offset="1" stop-color="#f2862c"/></linearGradient>
<linearGradient id="gg" x1="0" x2="1" y1="0" y2="0"><stop offset="0" stop-color="#3d9a45"/><stop offset="1" stop-color="#62b43f"/></linearGradient>
</defs>
<g fill="none" stroke-width="2.8" stroke-linecap="butt">
 <path d="M724.5,584 V569 H727.8" stroke="#3b6cc0"/>
 <path d="M731.1,584 V563.8 H734.4" stroke="#3c7cc6"/>
 <path d="M737.4,584 V558.5 H740.8" stroke="#3d8ed0"/>
 <path d="M743.3,558.5 H758 V561.5" stroke="url(#gm)"/>
 <path d="M743.3,564.4 H763.7 V567.5" stroke="url(#gm)"/>
 <path d="M743.3,570.8 H769.3 V574" stroke="url(#gm)"/>
 <path d="M769.2,576 V592 H766" stroke="url(#go)"/>
 <path d="M763.1,576 V596.6 H759.8" stroke="url(#go)"/>
 <path d="M756.6,576 V602.2 H753.2" stroke="url(#go)"/>
 <path d="M751.1,589.7 H724.6 V586.6" stroke="url(#gg)"/>
 <path d="M751.1,595.5 H730.3 V592.4" stroke="url(#gg)"/>
 <path d="M751.1,601.4 H735.5 V598.2" stroke="url(#gg)"/>
</g>
<text x="779.5" y="582.6" font-family="Liberation Sans, sans-serif" font-size="29.5" fill="#3f4e60" stroke="#3f4e60" stroke-width="0.35" textLength="122" lengthAdjust="spacingAndGlyphs">Intel<tspan fill="#5f89ab" stroke="#5f89ab">Evo</tspan></text>
<text x="781" y="596.9" font-family="Liberation Sans, sans-serif" font-size="12" fill="#4b5a68" textLength="121" lengthAdjust="spacing">RESEARCH</text>
</svg>

</body></html>
